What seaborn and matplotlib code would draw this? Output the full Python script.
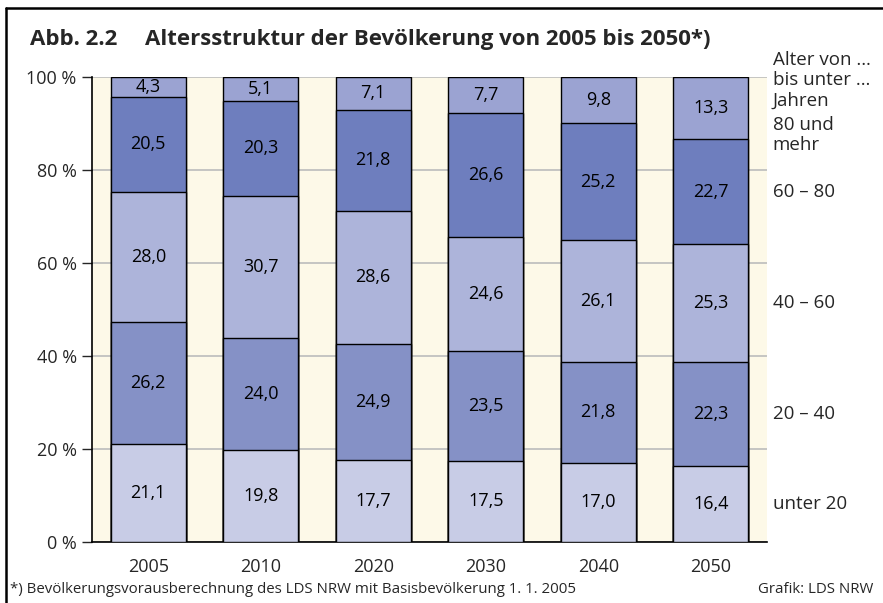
import seaborn as sns
import matplotlib.pyplot as plt
import pandas as pd
from matplotlib.lines import Line2D

# Values in percent
years = ['2005', '2010', '2020', '2030', '2040', '2050']
unter_20 = [21.1, 19.8, 17.7, 17.5, 17.0, 16.4]
von_20_40 = [26.2, 24.0, 24.9, 23.5, 21.8, 22.3]
von_40_60 = [28.0, 30.7, 28.6, 24.6, 26.1, 25.3]
von_60_80 = [20.5, 20.3, 21.8, 26.6, 25.2, 22.7]
ab_80 = [4.3, 5.1, 7.1, 7.7, 9.8, 13.3]

groups = ['unter 20', '20 – 40', '40 – 60', '60 – 80', '80 und\nmehr']
colors = ['#c8cce6', '#8591c6', '#adb4da', '#6e7ebe', '#9ba3d2']

df = pd.DataFrame({'Jahr': years, groups[0]: unter_20, groups[1]: von_20_40,
                   groups[2]: von_40_60, groups[3]: von_60_80, groups[4]: ab_80})
cum = df[groups].cumsum(axis=1)

sns.set_style('white')
plt.rcParams['font.family'] = ['Open Sans', 'DejaVu Sans']

fig = plt.figure(figsize=(8.83, 6.03), dpi=100)
ax = fig.add_axes([0.1042, 0.1012, 0.7644, 0.7711])
ax.set_facecolor('#fdf9e8')

# stacked bars: draw cumulative totals from the top layer down
for g, c in reversed(list(zip(groups, colors))):
    sns.barplot(x=df['Jahr'], y=cum[g], color=c, width=0.667,
                edgecolor='black', linewidth=1.0, saturation=1, ax=ax, zorder=3)

# value labels in the middle of each segment
for i in range(len(years)):
    bottom = 0
    for g in groups:
        v = df[g][i]
        ax.text(i, bottom + v / 2, f'{v:.1f}'.replace('.', ','), ha='center',
                va='center', fontsize=13, color='black', zorder=5)
        bottom += v

ax.set_xlim(-0.5, 5.5)
ax.set_ylim(0, 100)
ax.set_yticks([0, 20, 40, 60, 80, 100])
ax.set_yticklabels(['0 %', '20 %', '40 %', '60 %', '80 %', '100 %'])
ax.set_xlabel('')
ax.set_ylabel('')
ax.grid(axis='y', color='#bcbcbc', linewidth=1.2, zorder=0)
ax.set_axisbelow(True)
for s in ['top', 'right']:
    ax.spines[s].set_visible(False)
for s in ['left', 'bottom']:
    ax.spines[s].set_color('black')
    ax.spines[s].set_linewidth(1.2)
ax.tick_params(axis='y', left=True, length=7, width=1, labelsize=13, pad=4)
ax.tick_params(axis='x', bottom=False, labelsize=13, pad=8)

# legend-like labels on the right, next to the last bar's segments
last = len(years) - 1
bottom = 0
for g in groups[:-1]:
    v = df[g][last]
    ax.text(5.55, bottom + v / 2, g, ha='left', va='center', fontsize=13.5,
            clip_on=False)
    bottom += v
ax.text(5.55, 87.5, groups[-1], ha='left', va='center', fontsize=13.5,
        linespacing=1.15, clip_on=False)
fig.text(0.8754, 0.915, 'Alter von …\nbis unter …\nJahren', ha='left',
         va='top', fontsize=13.5, linespacing=1.15)

# title
fig.text(0.034, 0.925, 'Abb. 2.2', fontsize=16, fontweight='bold')
fig.text(0.164, 0.925, 'Altersstruktur der Bevölkerung von 2005 bis 2050*)',
         fontsize=16, fontweight='bold')

# footnotes
fig.text(0.011, 0.017, '*) Bevölkerungsvorausberechnung des LDS NRW mit '
         'Basisbevölkerung 1. 1. 2005', fontsize=10.8)
fig.text(0.989, 0.017, 'Grafik: LDS NRW', ha='right', fontsize=10.8)

# frame lines at the left and top
fig.add_artist(Line2D([0.007, 0.007], [0, 0.987], color='black', linewidth=1.8))
fig.add_artist(Line2D([0.007, 1.0], [0.987, 0.987], color='black', linewidth=1.8))

fig.savefig('out.png', dpi=100)
